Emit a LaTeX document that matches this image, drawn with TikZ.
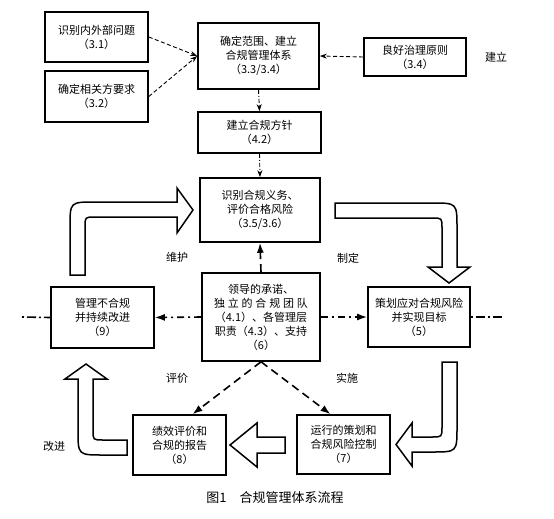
\documentclass[tikz,border=0pt]{standalone}
\usepackage{fontspec}
\setmainfont{Noto Sans CJK SC}
\usetikzlibrary{arrows.meta}

\begin{document}
\begin{tikzpicture}[x=1pt, y=-1pt]
        % Define styles for the boxes and arrows
        \tikzset{
            box/.style={draw, line width=1.6pt, align=center, inner sep=0pt,
                font=\fontsize{11}{14}\selectfont},
            thin arrow/.style={-{Stealth[length=7pt,width=5pt]}, line width=0.9pt, dash pattern=on 4pt off 2.5pt},
            dot arrow/.style={thin arrow, dash pattern=on 4pt off 2pt on 1pt off 2pt},
            bold arrow/.style={-{Latex[length=10pt,width=7pt]}, line width=1.6pt, dash pattern=on 8pt off 5pt},
            side arrow/.style={bold arrow, dash pattern=on 7pt off 4pt on 2pt off 4pt},
            axis line/.style={line width=1.6pt, dash pattern=on 2pt off 3pt on 9pt off 3pt},
            block arrow/.style={draw, line width=1.5pt, line join=miter, fill=white},
            tag/.style={font=\fontsize{11}{13}\selectfont}
        }
        \useasboundingbox (0,0) rectangle (554,519);

        % Boxes of the upper part
        \node[box, minimum width=103pt, minimum height=50pt] (n31) at (96.5,37) {识别内外部问题\\（3.1）};
        \node[box, minimum width=103pt, minimum height=51pt] (n32) at (96.5,96.5) {确定相关方要求\\（3.2）};
        \node[box, minimum width=121pt, minimum height=66pt] (n33) at (258.5,56) {确定范围、建立\\合规管理体系\\（3.3/3.4）};
        \node[box, minimum width=102pt, minimum height=38pt] (n34) at (415,57) {良好治理原则\\（3.4）};
        \node[box, minimum width=123pt, minimum height=41pt] (n42) at (259.5,132.5) {建立合规方针\\（4.2）};
        \node[box, minimum width=120pt, minimum height=64pt] (n35) at (260,210) {识别合规义务、\\评价合格风险\\（3.5/3.6）};

        % Boxes of the cycle
        \node[box, minimum width=118pt, minimum height=88pt] (n6) at (261,317)
            {领导的承诺、\\\makebox[94pt][s]{独\hfil 立\hfil 的\hfil 合\hfil 规\hfil 团\hfil 队}\\（4.1）、各管理层\\职责（4.3）、支持\\（6）};
        \node[box, minimum width=103pt, minimum height=61pt] (n9) at (102.5,317.5) {管理不合规\\并持续改进\\（9）};
        \node[box, minimum width=102pt, minimum height=60pt] (n5) at (419,317) {策划应对合规风险\\并实现目标\\（5）};
        \node[box, minimum width=93pt, minimum height=60pt] (n8) at (179.5,445) {绩效评价和\\合规的报告\\（8）};
        \node[box, minimum width=93pt, minimum height=59pt] (n7) at (343.5,444.5) {运行的策划和\\合规风险控制\\（7）};

        % Dashed connectors
        \draw[thin arrow] (n31.east) -- (n33.west);
        \draw[thin arrow] (n32.east) -- (n33.west);
        \draw[thin arrow] (n34.west) -- (n33.east);
        \draw[dot arrow] (n33.south) -- (n42.north);
        \draw[dot arrow] (n42.south) -- (n35.north);
        \draw[bold arrow] (n6.north) -- (n35.south);
        \draw[side arrow] (n6.west) -- (n9.east);
        \draw[side arrow] (n6.east) -- (n5.west);
        \draw[bold arrow] (n6.south) -- ([xshift=13pt]n8.north);
        \draw[bold arrow] (n6.south) -- ([xshift=-13pt]n7.north);

        % Axis through the middle
        \coordinate (lend) at (22,317);
        \coordinate (rend) at (503,317);
        \draw[axis line] (lend) -- (n9.west);
        \draw[axis line] (n5.east) -- (rend);

        % Hollow arrows of the cycle
        \path[block arrow] (70,275) -- (70,227) .. controls (70,202) .. (95,202) -- (177,202) -- (177,188)
            -- (193,210) -- (177,233) -- (177,217) -- (95,217) .. controls (85,217) .. (85,227) -- (85,275) -- cycle;
        \path[block arrow] (335,203) -- (432,203) .. controls (457,203) .. (457,228) -- (457,267) -- (470,267)
            -- (449,283) -- (428,267) -- (442,267) -- (442,228) .. controls (442,218) .. (432,218) -- (335,218) -- cycle;
        \path[block arrow] (442,362) -- (457,362) -- (457,427) .. controls (457,452) .. (432,452) -- (412,452)
            -- (412,466) -- (396,444.5) -- (412,423) -- (412,437) -- (432,437) .. controls (442,437) .. (442,427) -- cycle;
        \path[block arrow] (285,437) -- (285,453) -- (257,453) -- (257,467) -- (230,445) -- (257,423) -- (257,437) -- cycle;
        \path[block arrow] (127,440) -- (127,455) -- (103,455) .. controls (78,455) .. (78,430) -- (78,379) -- (65,379)
            -- (86,364) -- (107,379) -- (93,379) -- (93,430) .. controls (93,440) .. (103,440) -- cycle;

        % Labels
        \node[tag] (tbuild) at (496,57) {建立};
        \node[tag] (tkeep) at (177,257) {维护};
        \node[tag] (tmake) at (348,258) {制定};
        \node[tag] (teval) at (177,378) {评价};
        \node[tag] (tdo) at (347,378) {实施};
        \node[tag] (timpr) at (54,446) {改进};
        \node[font=\fontsize{13}{15}\selectfont] (caption) at (275,498) {图1\quad 合规管理体系流程};

    \end{tikzpicture}
\end{document}
